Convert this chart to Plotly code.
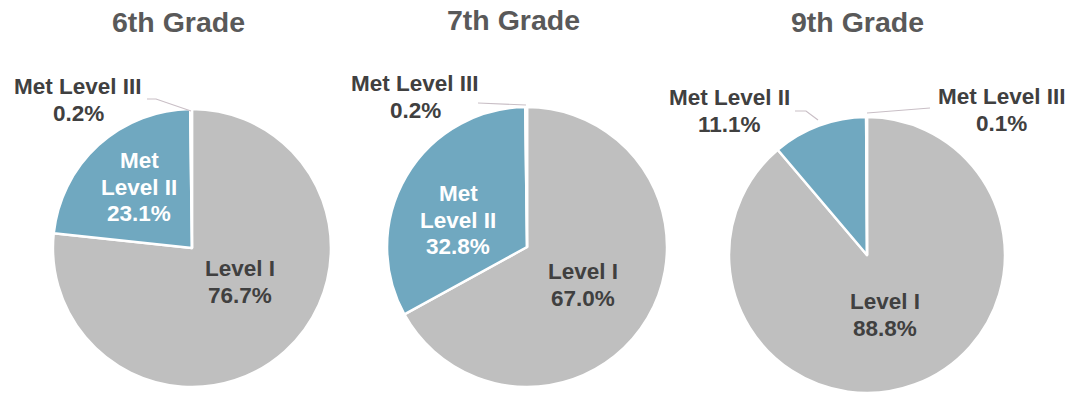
import plotly.graph_objects as go

W, H = 1076, 393

grades = ["6th Grade", "7th Grade", "9th Grade"]
levels = ["Level I", "Met Level II", "Met Level III"]
grade6 = [76.7, 23.1, 0.2]
grade7 = [67.0, 32.8, 0.2]
grade9 = [88.8, 11.1, 0.1]
series = [grade6, grade7, grade9]

GRAY = "#BFBFBF"
BLUE = "#70A8C0"
TXT = "#404040"
TITLE = "#595959"
FONT = "Liberation Sans, Arial, sans-serif"

# pie domains (paper fractions)
domains = [
    dict(x=[0.0492, 0.3076], y=[0.0153, 0.7227]),
    dict(x=[0.3597, 0.6199], y=[0.0153, 0.7277]),
    dict(x=[0.6775, 0.9340], y=[0.0, 0.7023]),
]

fig = go.Figure()
for vals, dom, g in zip(series, domains, grades):
    fig.add_trace(go.Pie(
        labels=levels, values=vals, sort=False, direction="clockwise",
        rotation=0, domain=dom, textinfo="none", hoverinfo="label+percent",
        marker=dict(colors=[GRAY, BLUE, "#D9D9D9"], line=dict(color="white", width=2.5)),
        showlegend=False, name=g,
    ))


def px(x, y):
    return x / W, 1 - y / H


annotations = []


def label(lines, x, y, color=TXT, size=22.5, spacing=26.5):
    n = len(lines)
    for i, t in enumerate(lines):
        yy_px = y + (i - (n - 1) / 2) * spacing
        xx, yy = px(x, yy_px)
        annotations.append(dict(text=f"<b>{t}</b>", x=xx, y=yy, xref="paper", yref="paper",
                                showarrow=False, xanchor="center", yanchor="middle",
                                font=dict(family=FONT, size=size, color=color)))


def fmt(v):
    return f"{v:.1f}%"


# titles
for g, (x, y) in zip(grades, [(178, 22), (513, 20), (857, 22)]):
    label([g], x, y, color=TITLE, size=28.5)

# 6th grade
label([levels[2], fmt(grade6[2])], 78, 100)
label(["Met", "Level II", fmt(grade6[1])], 139, 187, color="white")
label([levels[0], fmt(grade6[0])], 240, 282)
# 7th grade
label([levels[2], fmt(grade7[2])], 415, 97)
label(["Met", "Level II", fmt(grade7[1])], 458, 220, color="white")
label([levels[0], fmt(grade7[0])], 583, 285)
# 9th grade
label([levels[1], fmt(grade9[1])], 729, 111)
label([levels[2], fmt(grade9[2])], 1002, 110)
label([levels[0], fmt(grade9[0])], 885, 315)

shapes = []


def leader(points):
    d = ""
    for i, (x, y) in enumerate(points):
        xx, yy = px(x, y)
        d += ("M" if i == 0 else "L") + f"{xx},{yy} "
    shapes.append(dict(type="path", path=d.strip(), xref="paper", yref="paper",
                       line=dict(color="#C9BFC6", width=1.2)))


leader([(147, 99), (156, 99), (191, 111)])
leader([(478, 103), (526, 105)])
leader([(795, 111), (806, 111), (818, 120)])
leader([(867, 113), (930, 108)])

fig.update_layout(
    width=W, height=H, margin=dict(l=0, r=0, t=0, b=0),
    paper_bgcolor="white", plot_bgcolor="white",
    annotations=annotations, shapes=shapes,
)

fig.write_html("out.html")
